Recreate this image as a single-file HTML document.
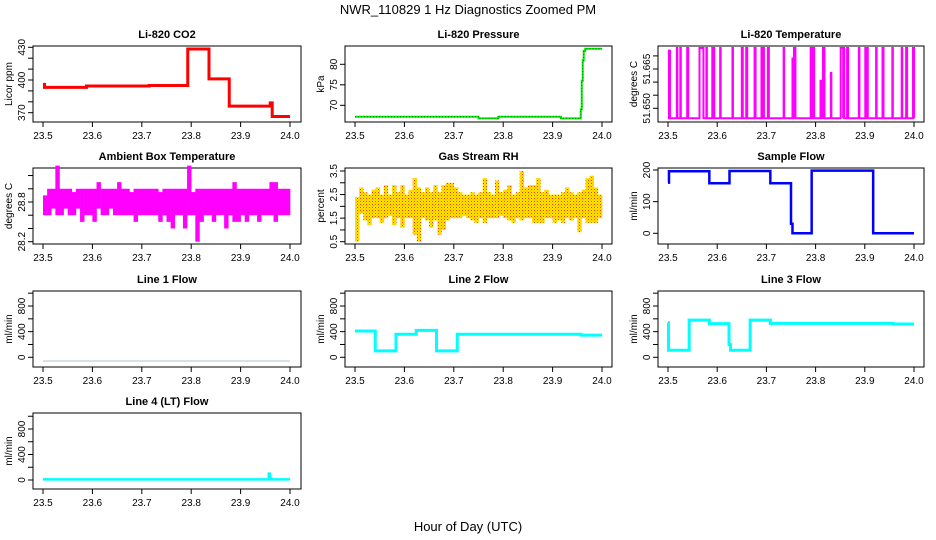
<!DOCTYPE html>
<html><head><meta charset="utf-8"><style>
html,body{margin:0;padding:0;background:#fff;}
svg{display:block;font-family:"Liberation Sans",sans-serif;}
</style></head><body>
<svg id="chart" width="936" height="540" viewBox="0 0 936 540" xmlns="http://www.w3.org/2000/svg">
<defs>
<pattern id="rhpat" width="3" height="3" patternUnits="userSpaceOnUse">
<rect width="3" height="3" fill="#ffe800"/><rect width="1" height="1" fill="#ff3300"/><rect x="1.5" y="1.5" width="1" height="1" fill="#ff8800"/>
</pattern>
</defs>
<text x="468" y="14" text-anchor="middle" font-size="13">NWR_110829  1 Hz Diagnostics Zoomed PM</text>
<text x="468" y="531" text-anchor="middle" font-size="13">Hour of Day (UTC)</text>
</svg>
<script>
// ---- data ----
const xTicks = [23.5, 23.6, 23.7, 23.8, 23.9, 24.0];
const xTickLabels = ["23.5", "23.6", "23.7", "23.8", "23.9", "24.0"];
const co2X = [23.5, 23.503, 23.588, 23.715, 23.793, 23.836, 23.877, 23.96, 23.964, 24.0];
const co2V = [396, 393.2, 394.5, 395, 428.4, 401, 376, 379, 366.5];
const presX = [23.5, 23.75, 23.79, 23.917, 23.957, 23.959, 23.961, 23.963, 23.966, 23.97, 24.0];
const presV = [67.2, 66.8, 67.2, 66.8, 69, 76, 81, 83.2, 83.8, 83.8];
const sampX = [23.5, 23.502, 23.584, 23.625, 23.708, 23.75, 23.753, 23.792, 23.917, 24.0];
const sampV = [160, 196, 158, 197, 158, 30, 0, 198, 0];
const l1X = [23.5, 24.0];
const l1V = [-57];
const l2X = [23.5, 23.541, 23.583, 23.624, 23.665, 23.707, 23.957, 24.0];
const l2V = [410, 100, 360, 420, 100, 360, 345];
const l3X = [23.5, 23.501, 23.543, 23.584, 23.624, 23.627, 23.667, 23.708, 23.957, 24.0];
const l3V = [540, 110, 580, 525, 200, 110, 580, 530, 520];
const l4X = [23.5, 23.957, 23.959, 23.962, 24.0];
const l4V = [10, 100, 30, 10];
const tempBase = 51.6462;
const tempStart = [23.502,23.518,23.525,23.539,23.564,23.578,23.59,23.606,23.631,23.65,23.659,23.676,23.69,23.693,23.703,23.735,23.753,23.756,23.79,23.795,23.81,23.815,23.831,23.851,23.856,23.864,23.888,23.901,23.904,23.923,23.936,23.956,23.975,23.984,23.998];
const tempEnd   = [23.504,23.519,23.526,23.541,23.572,23.579,23.594,23.607,23.632,23.652,23.661,23.678,23.692,23.695,23.705,23.736,23.754,23.759,23.793,23.797,23.812,23.818,23.832,23.856,23.858,23.866,23.889,23.903,23.906,23.924,23.938,23.957,23.976,23.986,24.0];
const tempPeak  = [51.672,51.673,51.673,51.673,51.673,51.673,51.673,51.673,51.673,51.673,51.673,51.673,51.673,51.673,51.673,51.673,51.669,51.673,51.673,51.673,51.6605,51.673,51.6635,51.673,51.673,51.673,51.673,51.673,51.673,51.673,51.673,51.673,51.673,51.673,51.673];
const ambHi = [28.9,29.0,29.0,29.35,29.0,29.0,29.0,28.95,29.0,29.0,29.0,29.0,29.0,29.1,29.0,29.0,29.0,29.0,29.1,29.0,29.0,28.95,29.0,29.0,29.0,29.0,29.0,29.0,28.95,29.0,29.0,29.0,29.0,29.0,29.0,29.35,28.95,29.0,29.0,29.0,29.0,29.0,29.0,29.0,29.0,29.0,29.1,29.0,29.0,29.0,29.0,29.0,29.0,29.0,29.0,29.1,29.1,29.0,29.0,29.0];
const ambLo = [28.6,28.6,28.7,28.6,28.6,28.7,28.6,28.6,28.7,28.5,28.6,28.6,28.5,28.7,28.6,28.6,28.7,28.6,28.6,28.6,28.6,28.6,28.5,28.6,28.6,28.6,28.6,28.6,28.5,28.6,28.5,28.4,28.6,28.6,28.4,28.6,28.6,28.2,28.5,28.6,28.6,28.5,28.6,28.6,28.4,28.6,28.5,28.5,28.6,28.5,28.6,28.6,28.5,28.6,28.6,28.6,28.5,28.6,28.6,28.6];
const rhHi = [2.4,2.8,2.6,2.5,2.7,2.8,2.5,2.9,2.5,2.9,2.6,2.9,2.5,2.7,3.2,2.8,2.6,2.8,2.6,2.9,2.6,2.9,3.0,3.0,2.8,2.6,2.5,2.5,2.6,2.5,2.6,3.2,2.6,2.5,3.1,2.6,2.7,2.9,2.5,2.6,3.5,2.8,2.9,2.9,3.2,2.6,2.7,2.5,2.5,2.5,2.6,2.8,2.6,2.5,2.6,2.7,3.2,3.3,2.8,2.5];
const rhLo = [0.5,1.7,1.4,1.2,1.5,1.5,1.3,1.5,1.6,1.2,1.5,1.1,1.5,1.5,0.8,0.5,1.5,1.4,1.1,1.4,0.8,1.0,1.4,1.5,1.5,1.5,1.6,1.5,1.4,1.3,1.5,1.3,1.5,1.5,1.5,1.6,1.5,1.4,1.3,1.5,1.4,1.5,1.5,1.3,1.3,1.3,1.5,1.5,1.3,1.4,1.3,1.5,1.4,1.5,0.9,1.5,1.3,1.3,1.3,1.5];
const co2Ticks = [370,380,390,400,410,420,430], co2Labels = ["370","","","400","","","430"];
const presTicks = [70,75,80], presLabels = ["70","75","80"];
const tempTicks = [51.650,51.655,51.660,51.665,51.670], tempLabels = ["51.650","","","51.665",""];
const ambTicks = [28.2,28.4,28.6,28.8,29.0,29.2], ambLabels = ["28.2","","","28.8","",""];
const rhTicks = [0.5,1.0,1.5,2.0,2.5,3.0,3.5], rhLabels = ["0.5","","1.5","","2.5","","3.5"];
const sampTicks = [0,100,200], sampLabels = ["0","100","200"];
const flowTicks = [0,200,400,600,800,1000], flowLabels = ["0","","400","","800",""];

// ---- layout ----
const NS = "http://www.w3.org/2000/svg";
const svg = document.getElementById("chart");
const cols = [{l:33,r:301,x0:43,x1:290},{l:345,r:612,x0:355,x1:602},{l:658,r:924,x0:668,x1:914}];
const rows = [{t:46,b:122},{t:168,b:244},{t:291,b:367},{t:413,b:489}];
function mk(tag, attrs, parent){const e=document.createElementNS(NS,tag);for(const k in attrs)e.setAttribute(k,attrs[k]);(parent||svg).appendChild(e);return e;}

function panel(name, title, ylab, c, r, ymap, ticks, labels){
  const C=cols[c], R=rows[r];
  const g=mk("g",{});
  
  
  const xs=v=>C.x0+(v-23.5)/0.5*(C.x1-C.x0);
  const ys=v=>ymap[0]+(v-ymap[1])*(ymap[2]-ymap[0])/(ymap[3]-ymap[1]);
  const box=mk("rect",{x:C.l,y:R.t,width:C.r-C.l,height:R.b-R.t,fill:"none",stroke:"#000","stroke-width":1},g);
  
  
  const t=mk("text",{x:(C.l+C.r)/2,y:R.t-8,"text-anchor":"middle","font-size":11,"font-weight":"bold"},g);
  t.textContent=title;
  
  
  const yl=mk("text",{transform:`translate(${C.l-21},${(R.t+R.b)/2}) rotate(-90)`,"text-anchor":"middle","font-size":10},g);
  yl.textContent=ylab;
  
  
  const xa=mk("g",{},g);
  
  
  mk("line",{x1:xs(xTicks[0]),x2:xs(xTicks[xTicks.length-1]),y1:R.b,y2:R.b,stroke:"#000"},xa);
  xTicks.forEach((v,i)=>{
    mk("line",{x1:xs(v),x2:xs(v),y1:R.b,y2:R.b+5,stroke:"#000"},xa);
    const tl=mk("text",{x:xs(v),y:R.b+17,"text-anchor":"middle","font-size":10},xa);
    tl.textContent=xTickLabels[i];
    
    
  });
  const ya=mk("g",{},g);
  
  
  mk("line",{x1:C.l,x2:C.l,y1:ys(ticks[0]),y2:ys(ticks[ticks.length-1]),stroke:"#000"},ya);
  ticks.forEach((v,i)=>{
    mk("line",{x1:C.l-5,x2:C.l,y1:ys(v),y2:ys(v),stroke:"#000"},ya);
    if(labels[i]){
      const tl=mk("text",{transform:`translate(${C.l-8},${ys(v)}) rotate(-90)`,"text-anchor":"middle","font-size":10},ya);
      tl.textContent=labels[i];
      
      
    }
  });
  return {g,xs,ys};
}
function stepPath(P, X, V){
  let d=`M${P.xs(X[0])},${P.ys(V[0])}`;
  for(let i=0;i<V.length;i++){d+=` L${P.xs(X[i+1])},${P.ys(V[i])}`; if(i+1<V.length) d+=` L${P.xs(X[i+1])},${P.ys(V[i+1])}`;}
  return d;
}
function series(P, name, d, color, w, dash){
  const p=mk("path",{d:d,fill:"none",stroke:color,"stroke-width":w,"stroke-linejoin":"miter"},P.g);
  if(dash) p.setAttribute("stroke-dasharray",dash);
  
  
  return p;
}
function bandBins(P, name, hi, lo, fill){
  const n=hi.length;
  const bg=mk("g",{},P.g);
  
  
  hi.forEach((h,i)=>{
    const x0=P.xs(23.5+0.5*i/n), x1=P.xs(23.5+0.5*(i+1)/n);
    const y0=P.ys(h), y1=P.ys(lo[i]);
    const r=mk("rect",{x:x0,y:Math.min(y0,y1),width:x1-x0+0.3,height:Math.abs(y1-y0),fill:fill},bg);
    
    
  });
}

let P=panel("co2","Li-820 CO2","Licor ppm",0,0,[80,400,112.7,370],co2Ticks,co2Labels);
series(P,"co2-line",stepPath(P,co2X,co2V),"#ff0000",3);
P=panel("pressure","Li-820 Pressure","kPa",1,0,[64.3,80,105.3,70],presTicks,presLabels);
series(P,"pressure-line",stepPath(P,presX,presV),"#00ee00",2);
series(P,"pressure-dots",stepPath(P,presX,presV),"#000",1,"1,2").setAttribute("opacity","0.5");
P=panel("li820-temp","Li-820 Temperature","degrees C",2,0,[108.3,51.650,69,51.665],tempTicks,tempLabels);
(function(){
  let d=`M${P.xs(23.5)},${P.ys(tempBase)}`;
  tempStart.forEach((s,i)=>{
    d+=` L${P.xs(s)},${P.ys(tempBase)} L${P.xs(s)},${P.ys(tempPeak[i])} L${P.xs(tempEnd[i])},${P.ys(tempPeak[i])} L${P.xs(tempEnd[i])},${P.ys(tempBase)}`;
  });
  d+=` L${P.xs(24.0)},${P.ys(tempBase)}`;
  series(P,"li820-temp-line",d,"#ff00ff",2);
})();
P=panel("ambient-temp","Ambient Box Temperature","degrees C",0,1,[202,28.8,241.7,28.2],ambTicks,ambLabels);
bandBins(P,"ambient-temp-band",ambHi,ambLo,"#ff00ff");
P=panel("gas-rh","Gas Stream RH","percent",1,1,[241.7,0.5,171,3.5],rhTicks,rhLabels);
bandBins(P,"gas-rh-band",rhHi,rhLo,"url(#rhpat)");
P=panel("sample-flow","Sample Flow","ml/min",2,1,[233.3,0,170,200],sampTicks,sampLabels);
series(P,"sample-flow-line",stepPath(P,sampX,sampV),"#0000ff",2.5);
P=panel("line1-flow","Line 1 Flow","ml/min",0,2,[357.3,0,306,800],flowTicks,flowLabels);
series(P,"line1-flow-line",stepPath(P,l1X,l1V),"#a8c8cc",1);
P=panel("line2-flow","Line 2 Flow","ml/min",1,2,[357.3,0,306,800],flowTicks,flowLabels);
series(P,"line2-flow-line",stepPath(P,l2X,l2V),"#00ffff",3);
P=panel("line3-flow","Line 3 Flow","ml/min",2,2,[357.3,0,306,800],flowTicks,flowLabels);
series(P,"line3-flow-line",stepPath(P,l3X,l3V),"#00ffff",3);
P=panel("line4-flow","Line 4 (LT) Flow","ml/min",0,3,[480,0,429,800],flowTicks,flowLabels);
series(P,"line4-flow-line",stepPath(P,l4X,l4V),"#00ffff",2.5);
</script>
</body></html>
